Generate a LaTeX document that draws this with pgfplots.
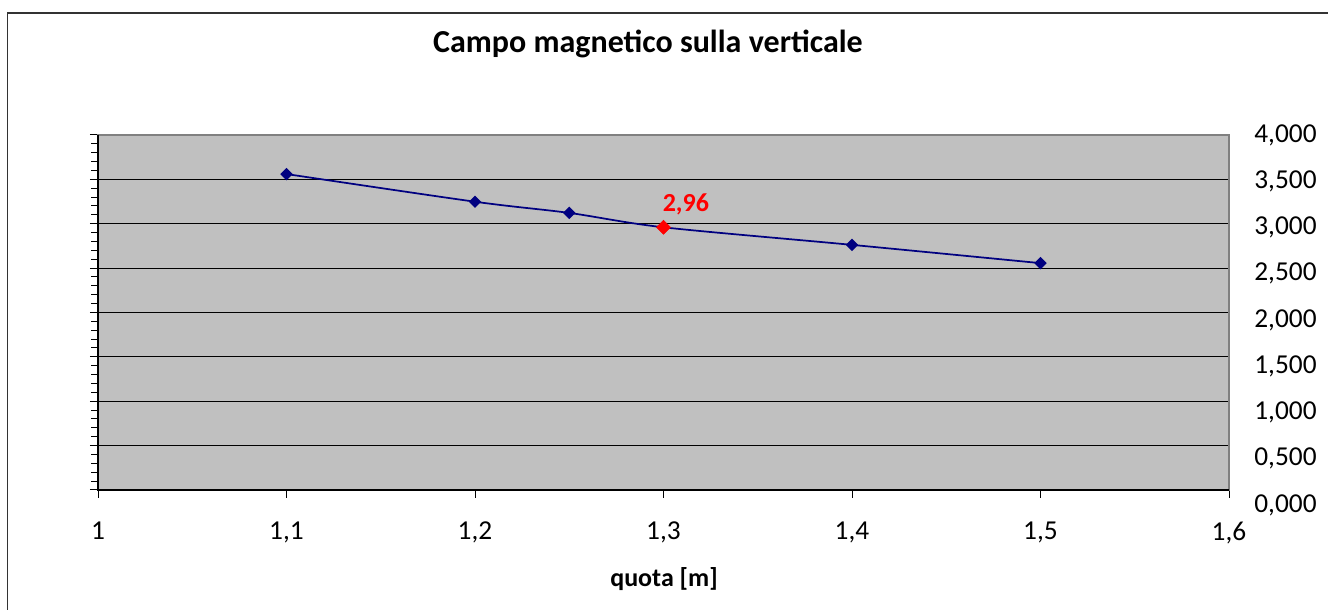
\documentclass[border=0pt]{standalone}
\usepackage{fontspec}
\setmainfont{Carlito}
\usepackage{pgfplots}
\pgfplotsset{compat=1.18}
\definecolor{plotgray}{HTML}{C0C0C0}
\definecolor{navyline}{HTML}{000080}
\definecolor{framegray}{HTML}{808080}
\begin{document}
\begin{tikzpicture}[x=0.75pt,y=0.75pt]
\useasboundingbox (0,0) rectangle (1328,610);
\draw[line width=1.3pt, color=black!80] (7.5,0) -- (7.5,597) -- (1328,597);
\node[font=\bfseries\fontsize{24}{28}\selectfont] at (648,566) {Campo magnetico sulla verticale};
\node[font=\bfseries\fontsize{19.5}{23}\selectfont] at (664,31) {quota [m]};
\begin{axis}[
  at={(73.5pt,90pt)}, anchor=south west,
  scale only axis, width=848.25pt, height=266.25pt,
  xmin=1, xmax=1.6, ymin=0, ymax=4,
  axis background/.style={fill=plotgray},
  axis line style={draw=framegray, line width=0.9pt},
  xtick={1,1.1,1.2,1.3,1.4,1.5,1.6},
  xticklabels={1,{1,1},{1,2},{1,3},{1,4},{1,5},{1,6}},
  ytick={0,0.5,1,1.5,2,2.5,3,3.5,4},
  yticklabels={{0,000},{0,500},{1,000},{1,500},{2,000},{2,500},{3,000},{3,500},{4,000}},
  minor y tick num=4,
  xtick pos=bottom, ytick pos=left,
  xticklabel pos=bottom, yticklabel pos=right,
  tick align=outside,
  major tick length=6pt, minor tick length=5pt,
  tick style={black, line width=0.75pt},
  ymajorgrids, grid style={black, line width=0.75pt},
  ticklabel style={font=\fontsize{20.5}{24}\selectfont},
  xticklabel style={anchor=north, yshift=-14.5pt},
  yticklabel style={anchor=west, xshift=9.5pt, yshift={-(8-\ticknum)*1.4pt}},
  clip=false,
  after end axis/.code={
    \draw[black, line width=0.9pt] (rel axis cs:0,1) -- (rel axis cs:0,0) -- (rel axis cs:1,0);
  },
]
\addplot[navyline, line width=1.3pt, smooth, mark=square*,
  mark size=2.65pt, mark options={rotate=45, solid, fill=navyline, draw=navyline}]
  coordinates {(1.1,3.56) (1.2,3.248) (1.25,3.122) (1.3,2.96) (1.4,2.762) (1.5,2.556)};
\addplot[only marks, mark=square*, mark size=3.7pt,
  mark options={rotate=45, fill=red, draw=red},
  nodes near coords={\textbf{2,96}},
  every node near coord/.style={anchor=base west, inner sep=0pt, xshift=-0.75pt, yshift=12pt,
    text=red, font=\bfseries\fontsize{19.5}{23}\selectfont}]
  coordinates {(1.3,2.96)};
\end{axis}
\end{tikzpicture}
\end{document}
